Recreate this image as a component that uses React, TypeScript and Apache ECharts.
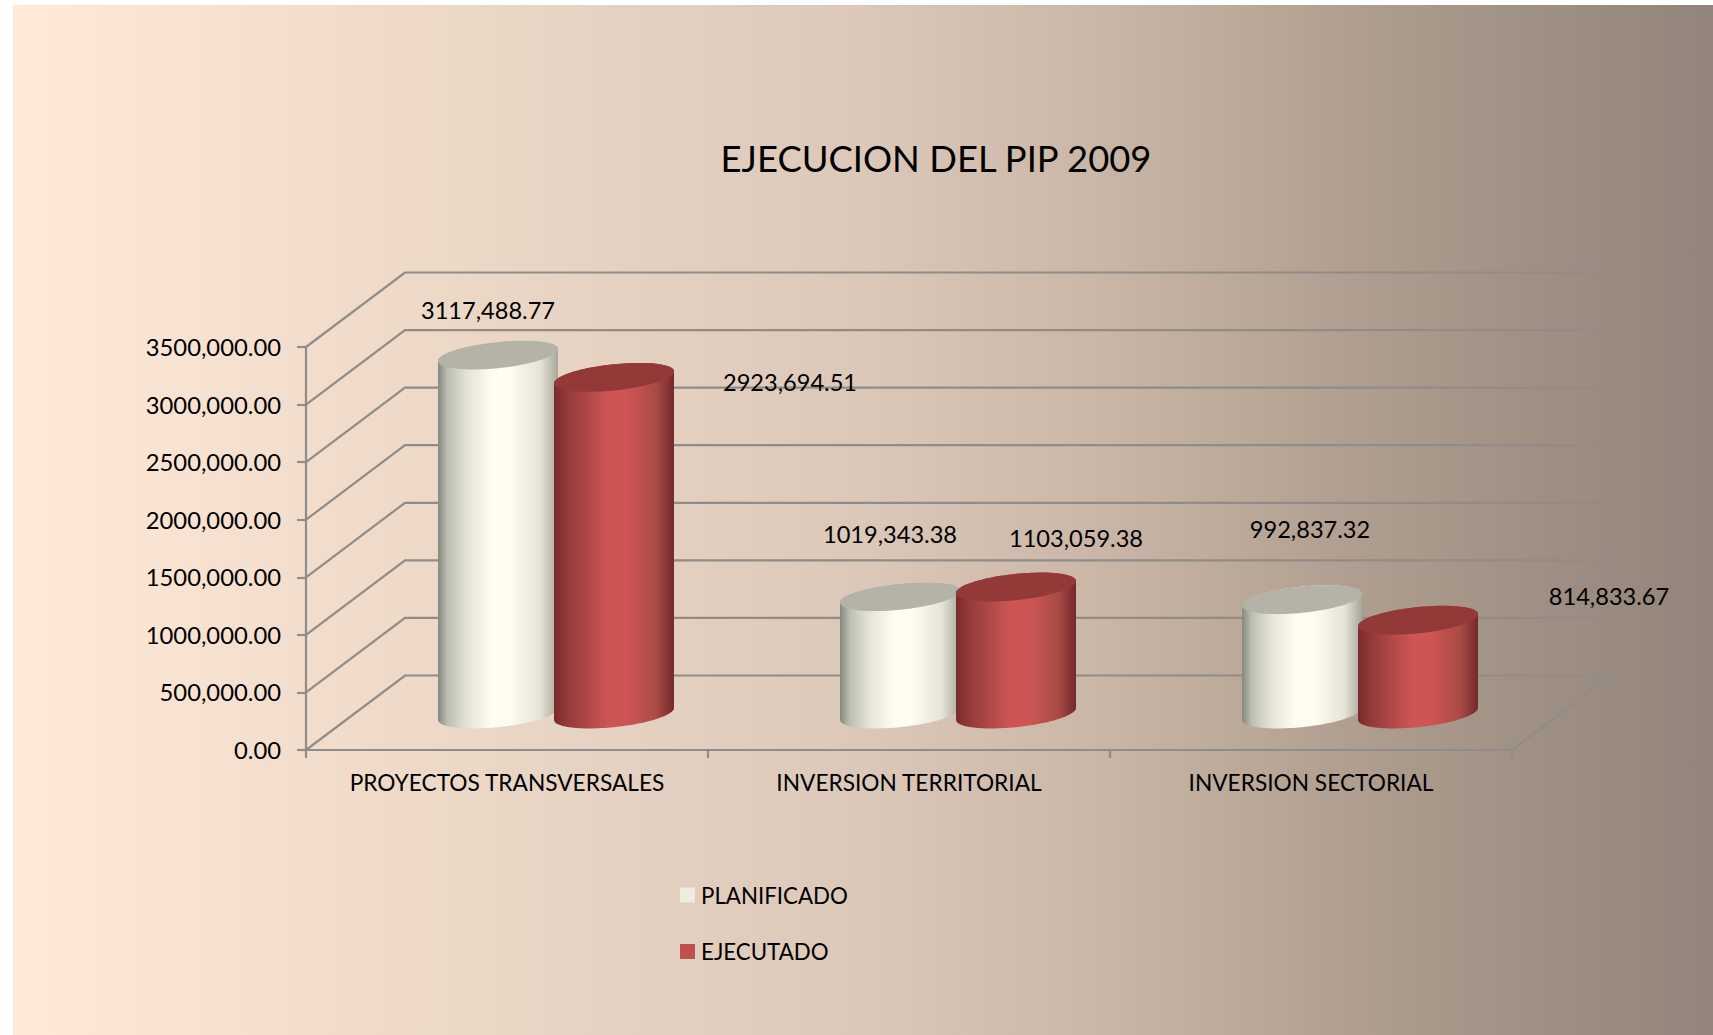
import React, { useEffect, useRef } from "react";
import * as echarts from "echarts";

const CATEGORIES = ["PROYECTOS TRANSVERSALES", "INVERSION TERRITORIAL", "INVERSION SECTORIAL"];
const PLANIFICADO = [3117488.77, 1019343.38, 992837.32];
const EJECUTADO = [2923694.51, 1103059.38, 814833.67];
const WALL_TICKS = [0, 500000, 1000000, 1500000, 2000000, 2500000, 3000000, 3500000];
const TITLE = "EJECUCION DEL PIP 2009";

// Hand-placed data label offsets from the top centre of each cylinder
const PLAN_LABEL_OFFSETS = [[-10, -45], [-10, -63], [8, -71]];
const EJEC_LABEL_OFFSETS = [[176, 5], [60, -49], [191, -24]];

const FONT = "Lato";
const NUMBER_SIZE = 23.6;
const TICK_SIZE = 23.8;
const CATEGORY_SIZE = 22.7;
const LEGEND_SIZE = 22.3;
const TITLE_SIZE = 36.4;
const LINE = "#8f8c89";
const LINE_W = 2.2;
const DEPTH_X = 99;
const DEPTH_Y = -74.5;
const BAR_DEPTH_X = 49;
const BAR_DEPTH_Y = -36;
const TILT = (-6 * Math.PI) / 180;
const ARC_STEPS = 60;

function fmtValue(v: number) {
  const [i, d] = v.toFixed(2).split(".");
  return i.length > 3 ? `${i.slice(0, -3)},${i.slice(-3)}.${d}` : `${i}.${d}`;
}
function fmtTick(v: number) {
  return v === 0 ? "0.00" : fmtValue(v);
}

// Half of a tilted ellipse, walked from its left-most point to its right-most point.
// side = 1 goes through the lower half (screen coordinates), -1 through the upper half.
function halfEllipse(cx: number, cy: number, a: number, b: number, side: number) {
  const c = Math.cos(TILT);
  const s = Math.sin(TILT);
  const t0 = Math.atan2(-b * s, a * c) + Math.PI;
  const pts: number[][] = [];
  for (let k = 0; k <= ARC_STEPS; k++) {
    const t = t0 - (side * Math.PI * k) / ARC_STEPS;
    const ex = a * Math.cos(t);
    const ey = b * Math.sin(t);
    pts.push([cx + ex * c - ey * s, cy + ex * s + ey * c]);
  }
  return pts;
}

function cylinder(
  stops: [number, string][],
  topColor: string,
  side: number,
  offsets: number[][],
) {
  return (params: any, api: any) => {
    const idx = api.value(0);
    const val = api.value(1);
    const band = api.size([1, 0])[0];
    const p = api.coord([idx, val]);
    const base = api.coord([idx, 0]);
    const w = band * 0.2985;
    const cx = p[0] + BAR_DEPTH_X + side * band * 0.1443;
    const yT = p[1] + BAR_DEPTH_Y;
    const yB = base[1] + BAR_DEPTH_Y;
    const a = w * 0.5025;
    const b = w * 0.109;
    const bottomFront = halfEllipse(cx, yB, a, b, 1);
    const topFront = halfEllipse(cx, yT, a, b, 1);
    const topBack = halfEllipse(cx, yT, a, b, -1);
    const body = [...bottomFront, ...topBack.slice().reverse()];
    const cap = [...topFront, ...topBack.slice().reverse()];
    const o = offsets[params.dataIndex];
    return {
      type: "group",
      children: [
        {
          type: "polygon",
          shape: { points: body },
          style: {
            fill: new echarts.graphic.LinearGradient(
              0, 0, 1, 0,
              stops.map(([offset, color]) => ({ offset, color })),
            ),
          },
        },
        {
          type: "polygon",
          shape: { points: cap },
          style: { fill: topColor },
        },
        {
          type: "text",
          x: cx + o[0],
          y: yT + o[1],
          style: {
            text: fmtValue(val),
            fill: "#000",
            font: `${NUMBER_SIZE}px ${FONT}`,
            align: "center",
            verticalAlign: "middle",
          },
        },
      ],
    };
  };
}

function wall(params: any, api: any) {
  const v = api.value(1);
  const cs = params.coordSys;
  const y = api.coord([0, v])[1];
  const x0 = cs.x;
  const x1 = cs.x + cs.width;
  const children: any[] = [
    {
      type: "polyline",
      shape: {
        points: [
          [x0, y],
          [x0 + DEPTH_X, y + DEPTH_Y],
          [x1 + DEPTH_X, y + DEPTH_Y],
        ],
      },
      style: { stroke: LINE, lineWidth: LINE_W, fill: "none" },
    },
  ];
  if (v === 0) {
    children.push({
      type: "line",
      shape: { x1, y1: y, x2: x1 + DEPTH_X, y2: y + DEPTH_Y },
      style: { stroke: LINE, lineWidth: LINE_W },
    });
  }
  return { type: "group", children };
}

const WHITE_STOPS: [number, string][] = [
  [0, "#85887e"],
  [0.08, "#bdbeb2"],
  [0.25, "#e6e5d9"],
  [0.45, "#fffcf0"],
  [0.6, "#fffcf0"],
  [0.85, "#e6e4d6"],
  [1, "#a6a79b"],
];
const RED_STOPS: [number, string][] = [
  [0, "#7a2a2c"],
  [0.12, "#963b3b"],
  [0.3, "#b24a48"],
  [0.45, "#cd5554"],
  [0.62, "#cd5554"],
  [0.85, "#a94b46"],
  [1, "#74292b"],
];

export default function App() {
  const ref = useRef<HTMLDivElement>(null);
  useEffect(() => {
    document.body.style.margin = "0";
    document.body.style.overflow = "hidden";
    const chart = echarts.init(ref.current!, undefined, { renderer: "svg" });
    chart.setOption({
      animation: false,
      backgroundColor: "#ffffff",
      graphic: [
        {
          type: "rect",
          z: -10,
          silent: true,
          shape: { x: 13, y: 5, width: 1700, height: 1030 },
          style: {
            fill: new echarts.graphic.LinearGradient(0, 0, 1, 0, [
              { offset: 0, color: "#ffe9d8" },
              { offset: 0.5, color: "#dbc8b8" },
              { offset: 0.64, color: "#c9b6a6" },
              { offset: 0.75, color: "#b6a495" },
              { offset: 0.88, color: "#a09285" },
              { offset: 1, color: "#92847a" },
            ]),
          },
        },
      ],
      title: {
        text: TITLE,
        left: 931,
        top: 135,
        textAlign: "center",
        textStyle: { fontFamily: FONT, fontSize: TITLE_SIZE, fontWeight: "normal", color: "#000" },
      },
      legend: {
        data: ["PLANIFICADO", "EJECUTADO"],
        orient: "vertical",
        left: 675,
        top: 879,
        itemWidth: 15,
        itemHeight: 15,
        itemGap: 34.5,
        icon: "rect",
        itemStyle: { borderWidth: 0 },
        textStyle: { fontFamily: FONT, fontSize: LEGEND_SIZE, color: "#000", padding: [0, 0, 0, 1] },
      },
      grid: { left: 306, right: 201, top: 347, bottom: 285 },
      xAxis: {
        type: "category",
        data: CATEGORIES,
        boundaryGap: true,
        axisLine: { lineStyle: { color: LINE, width: LINE_W } },
        axisTick: { show: true, length: 8, lineStyle: { color: LINE, width: LINE_W } },
        axisLabel: { margin: 21, fontFamily: FONT, fontSize: CATEGORY_SIZE, color: "#000", interval: 0 },
      },
      yAxis: {
        type: "value",
        min: 0,
        max: 3500000,
        interval: 500000,
        splitLine: { show: false },
        axisLine: { show: true, lineStyle: { color: LINE, width: LINE_W } },
        axisTick: { show: true, length: 9, lineStyle: { color: LINE, width: LINE_W } },
        axisLabel: {
          margin: 25,
          fontFamily: FONT,
          fontSize: TICK_SIZE,
          color: "#000",
          padding: [2, 0, 0, 0],
          formatter: fmtTick,
        },
      },
      series: [
        {
          type: "custom",
          name: "wall",
          silent: true,
          z: 1,
          data: WALL_TICKS.map((v) => [0, v]),
          encode: { x: 0, y: 1 },
          renderItem: wall,
        },
        {
          type: "custom",
          name: "PLANIFICADO",
          z: 3,
          itemStyle: { color: "#eeebe0" },
          data: PLANIFICADO.map((v, i) => [i, v]),
          encode: { x: 0, y: 1 },
          renderItem: cylinder(WHITE_STOPS, "#b5b3a8", -1, PLAN_LABEL_OFFSETS),
        },
        {
          type: "custom",
          name: "EJECUTADO",
          z: 4,
          itemStyle: { color: "#c0504d" },
          data: EJECUTADO.map((v, i) => [i, v]),
          encode: { x: 0, y: 1 },
          renderItem: cylinder(RED_STOPS, "#933a38", 1, EJEC_LABEL_OFFSETS),
        },
      ],
    });
    return () => chart.dispose();
  }, []);
  return <div ref={ref} style={{ width: 1713, height: 1035 }} />;
}
